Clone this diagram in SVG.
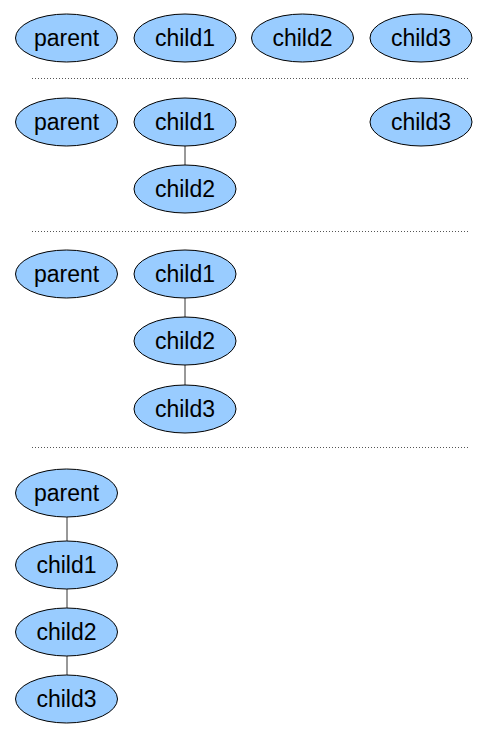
<svg xmlns="http://www.w3.org/2000/svg" width="492" height="745" viewBox="0 0 492 745">
<style>
.n ellipse{fill:#99ccff;stroke:#000;stroke-width:1}
.n text{font-family:"Liberation Sans",Arial,sans-serif;font-size:23px;fill:#000;text-anchor:middle}
.sep{stroke:#555;stroke-width:1;stroke-dasharray:1,2}
.e line{stroke:#333;stroke-width:1}
</style>
<rect width="492" height="745" fill="#fff"/>
<g id="separators">
<line class="sep" x1="32" y1="78.5" x2="470" y2="78.5"/>
<line class="sep" x1="32" y1="231.5" x2="470" y2="231.5"/>
<line class="sep" x1="32" y1="447.5" x2="470" y2="447.5"/>
</g>
<g class="e" id="edges">
<line x1="185" y1="146" x2="185" y2="165"/>
<line x1="185" y1="298" x2="185" y2="317"/>
<line x1="185" y1="365" x2="185" y2="385"/>
<line x1="67" y1="517" x2="67" y2="541"/>
<line x1="67" y1="589" x2="67" y2="608"/>
<line x1="67" y1="656" x2="67" y2="675"/>
</g>
<g class="n" id="r1_parent"><ellipse cx="66.5" cy="38" rx="51" ry="24"/><text x="66.5" y="46">parent</text></g>
<g class="n" id="r1_child1"><ellipse cx="185" cy="38" rx="51" ry="24"/><text x="185" y="46">child1</text></g>
<g class="n" id="r1_child2"><ellipse cx="302.5" cy="38" rx="51" ry="24"/><text x="302.5" y="46">child2</text></g>
<g class="n" id="r1_child3"><ellipse cx="421" cy="38" rx="51" ry="24"/><text x="421" y="46">child3</text></g>
<g class="n" id="r2_parent"><ellipse cx="66.5" cy="122" rx="51" ry="24"/><text x="66.5" y="130">parent</text></g>
<g class="n" id="r2_child1"><ellipse cx="185" cy="122" rx="51" ry="24"/><text x="185" y="130">child1</text></g>
<g class="n" id="r2_child2"><ellipse cx="185" cy="189" rx="51" ry="24"/><text x="185" y="197">child2</text></g>
<g class="n" id="r2_child3"><ellipse cx="421" cy="122" rx="51" ry="24"/><text x="421" y="130">child3</text></g>
<g class="n" id="r3_parent"><ellipse cx="66.5" cy="274" rx="51" ry="24"/><text x="66.5" y="282">parent</text></g>
<g class="n" id="r3_child1"><ellipse cx="185" cy="274" rx="51" ry="24"/><text x="185" y="282">child1</text></g>
<g class="n" id="r3_child2"><ellipse cx="185" cy="341" rx="51" ry="24"/><text x="185" y="349">child2</text></g>
<g class="n" id="r3_child3"><ellipse cx="185" cy="409" rx="51" ry="24"/><text x="185" y="417">child3</text></g>
<g class="n" id="r4_parent"><ellipse cx="66.5" cy="493" rx="51" ry="24"/><text x="66.5" y="501">parent</text></g>
<g class="n" id="r4_child1"><ellipse cx="66.5" cy="565" rx="51" ry="24"/><text x="66.5" y="573">child1</text></g>
<g class="n" id="r4_child2"><ellipse cx="66.5" cy="632" rx="51" ry="24"/><text x="66.5" y="640">child2</text></g>
<g class="n" id="r4_child3"><ellipse cx="66.5" cy="699" rx="51" ry="24"/><text x="66.5" y="707">child3</text></g>
</svg>
